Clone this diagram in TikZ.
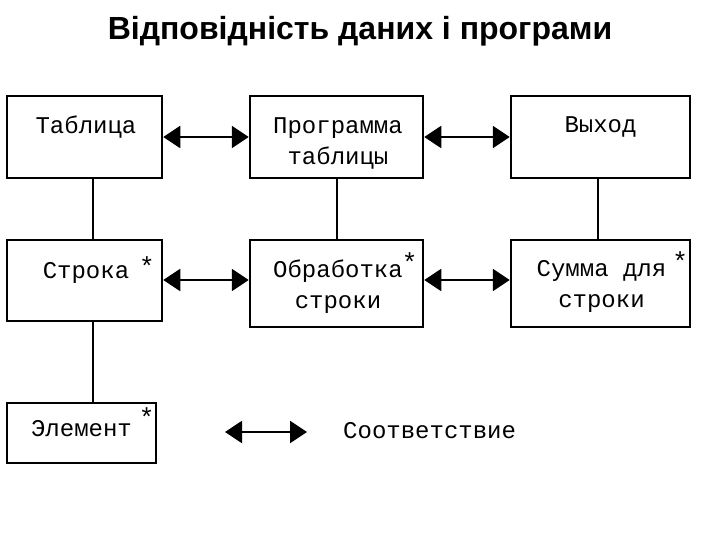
\documentclass[tikz,border=0pt]{standalone}
\usepackage{fontspec}
\setmainfont{Liberation Sans}
\newfontfamily\mono{Liberation Mono}
\usetikzlibrary{arrows.meta}
% star after a word: #1 gap, #2 raise
\newcommand{\zv}[2]{\rlap{\hspace{#1pt}\smash{\raisebox{#2pt}{\fontsize{26}{26}\selectfont *}}}}
\tikzset{
  blok/.style={draw, line width=2.5pt, inner sep=0pt},
  napys/.style={font=\mono\fontsize{24}{31}\selectfont, align=center, inner sep=0pt},
  vidp/.style={{Triangle[length=17pt,width=22pt]}-{Triangle[length=17pt,width=22pt]}, line width=2pt},
  zv/.style={line width=1.3pt}
}
\begin{document}
\begin{tikzpicture}[x=1pt,y=-1pt]
\useasboundingbox (0,0) rectangle (720,540);

\node[anchor=base, font=\bfseries\fontsize{32}{38}\selectfont] (title) at (360,40) {Відповідність даних і програми};

% first row
\node[blok, minimum width=155pt, minimum height=82pt,
  label={[napys, xshift=1.5pt, yshift=10pt]center:Таблица}] (tab) at (84.5,137) {};
\node[blok, minimum width=173pt, minimum height=82pt,
  label={[napys, xshift=1.5pt, yshift=-6.5pt]center:Программа\\таблицы}] (prog) at (336.5,137) {};
\node[blok, minimum width=179pt, minimum height=82pt,
  label={[napys, yshift=10pt]center:Выход}] (vyh) at (600.5,137) {};

% second row
\node[blok, minimum width=155pt, minimum height=81pt,
  label={[napys, xshift=1.5pt, yshift=8pt]center:Строка\zv{10}{3}}] (str) at (84.5,280.5) {};
\node[blok, minimum width=173pt, minimum height=87pt,
  label={[napys, xshift=1.5pt, yshift=-3pt]center:Обработка\zv{-1}{6}\\строки}] (obr) at (336.5,283.5) {};
\node[blok, minimum width=179pt, minimum height=87pt,
  label={[napys, xshift=1pt, yshift=-3pt]center:Сумма для\zv{6}{6}\\строки}] (sum) at (600.5,283.5) {};

% third row
\node[blok, minimum width=149pt, minimum height=60pt,
  label={[napys, yshift=4pt]center:Элемент\zv{7}{10}}] (el) at (81.5,433) {};

% legend
\coordinate (la) at (225,432);
\coordinate (lb) at (307,432);
\node[napys, anchor=west] (leg) at (343,431) {Соответствие};

\draw[vidp] (tab) -- (prog);
\draw[vidp] (prog) -- (vyh);
\draw[vidp] (str.east |- 0,280) -- (obr.west |- 0,280);
\draw[vidp] (obr.east |- 0,280) -- (sum.west |- 0,280);
\draw[vidp] (la) -- (lb);

\draw[zv] ([xshift=8.5pt]tab.south) -- ([xshift=8.5pt]tab.south |- str.north);
\draw[zv] ([xshift=8.5pt]str.south) -- ([xshift=8.5pt]str.south |- el.north);
\draw[zv] ([xshift=0.5pt]prog.south) -- ([xshift=0.5pt]prog.south |- obr.north);
\draw[zv] ([xshift=-2.5pt]vyh.south) -- ([xshift=-2.5pt]vyh.south |- sum.north);
\end{tikzpicture}
\end{document}
